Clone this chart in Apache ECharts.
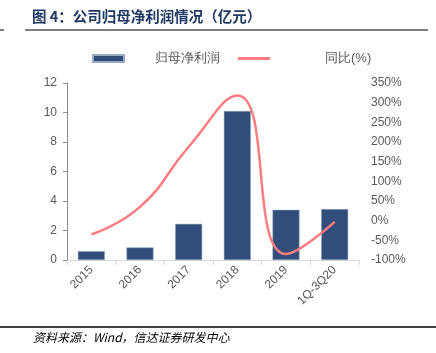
<!DOCTYPE html>
<html>
<head>
<meta charset="utf-8">
<script src="https://cdn.jsdelivr.net/npm/echarts@6/dist/echarts.min.js"></script>
<style>
html,body{margin:0;padding:0;background:#fff;}
#main{width:436px;height:353px;}
</style>
</head>
<body>
<div id="main"></div>
<script>
// 数据
var years = ['2015', '2016', '2017', '2018', '2019', '1Q-3Q20'];
var profit = [0.6, 0.85, 2.45, 10.1, 3.4, 3.45];    // 归母净利润（亿元）
var yoy = [-35, 35, 188, 318, -85, -3];             // 同比(%)

var myChart = echarts.init(document.getElementById('main'));
var font = '"Liberation Sans", Arial, sans-serif';
var red = '#ff7c80';

var option = {
    animation: false,
    backgroundColor: '#fff',
    graphic: [
        { type: 'text', left: 32, top: 9, style: { text: '图 4：公司归母净利润情况（亿元）', fill: '#1f3864', font: 'bold 14.5px "Noto Sans CJK SC"' } },
        { type: 'line', shape: { x1: 25, y1: 30, x2: 428, y2: 30 }, style: { stroke: '#000', lineWidth: 1 } },
        { type: 'line', shape: { x1: 0, y1: 30, x2: 4, y2: 30 }, style: { stroke: '#000', lineWidth: 1 } },
        { type: 'line', shape: { x1: 0, y1: 327, x2: 436, y2: 327 }, style: { stroke: '#000', lineWidth: 1.5 } },
        { type: 'text', left: 33, top: 331, style: { text: '资料来源：Wind，信达证券研发中心', fill: '#000', font: 'italic 12px "Noto Sans CJK SC"' } }
    ],
    legend: [
        {
            top: 47, left: 87,
            itemWidth: 31, itemHeight: 7,
            textStyle: { color: '#595959', fontSize: 13, fontFamily: font, padding: [0, 0, 0, 26] },
            data: [{ name: '归母净利润', icon: 'rect' }]
        },
        {
            top: 47, left: 233,
            itemWidth: 32, itemHeight: 7,
            textStyle: { color: '#595959', fontSize: 13, fontFamily: font, padding: [0, 0, 0, 50] },
            data: [{ name: '同比(%)', icon: 'path://M0,0 L32,0 L32,3 L0,3 Z' }]
        }
    ],
    grid: { left: 67, right: 77, top: 83, bottom: 93 },
    xAxis: {
        type: 'category',
        data: years,
        axisLine: { lineStyle: { color: '#d9d9d9' } },
        axisTick: { show: true, lineStyle: { color: '#d9d9d9' } },
        axisLabel: { rotate: 45, color: '#595959', fontSize: 12, fontFamily: font, margin: 8 }
    },
    yAxis: [
        {
            type: 'value', min: 0, max: 12, interval: 2,
            axisLine: { show: true, lineStyle: { color: '#8c8c8c' } },
            axisTick: { show: true, length: 4, lineStyle: { color: '#8c8c8c' } },
            splitLine: { show: false },
            axisLabel: { color: '#595959', fontSize: 12, fontFamily: font, margin: 10 }
        },
        {
            type: 'value', min: -100, max: 350, interval: 50,
            position: 'right',
            axisLine: { show: false },
            axisTick: { show: false },
            splitLine: { show: false },
            axisLabel: { color: '#595959', fontSize: 12, fontFamily: font, margin: 12, formatter: '{value}%' }
        }
    ],
    series: [
        {
            name: '归母净利润',
            type: 'bar',
            data: profit,
            barWidth: 27,
            itemStyle: { color: '#314e7b', borderColor: '#9aabc2', borderWidth: 0.5 }
        },
        {
            name: '同比(%)',
            type: 'line',
            yAxisIndex: 1,
            data: yoy,
            smooth: 0.5,
            symbol: 'none',
            lineStyle: { color: red, width: 2.5 },
            itemStyle: { color: red }
        }
    ]
};

myChart.setOption(option);
</script>
</body>
</html>
